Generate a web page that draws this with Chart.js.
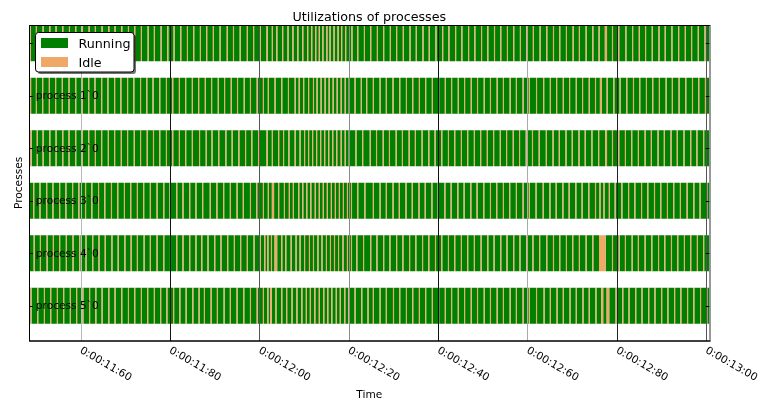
<!DOCTYPE html>
<html>
<head>
<meta charset="utf-8">
<script src="https://cdn.jsdelivr.net/npm/chart.js@4/dist/chart.umd.min.js"></script>
<style>
  html, body { margin: 0; padding: 0; background: #ffffff; }
  #wrap { width: 760px; height: 402px; }
</style>
</head>
<body>
<div id="wrap"><canvas id="chart" width="760" height="402"></canvas></div>
<script>
// Process rows, top to bottom
const processes = ['process 0`0', 'process 1`0', 'process 2`0', 'process 3`0', 'process 4`0', 'process 5`0'];

// Time window of the trace (ms) and the labelled ticks
const timeStart = 11484.3;
const timeEnd = 13005.8;
const tickValues = [11600, 11800, 12000, 12200, 12400, 12600, 12800, 13000];

// Start of every idle period (ms), one list per process
const p0Idle = [11485, 11499, 11514, 11529, 11543, 11558, 11573, 11587, 11602, 11617, 11631, 11646, 11661, 11675, 11690, 11705, 11719, 11734, 11749, 11763, 11778, 11793, 11807, 11822, 11837, 11851, 11866, 11880, 11895, 11910, 11926, 11940, 11955, 11971, 11985, 12000, 12015, 12027, 12037, 12050, 12062, 12073, 12084, 12095, 12106, 12115, 12124, 12132, 12140, 12149, 12156, 12165, 12174, 12182, 12191, 12205, 12218, 12233, 12247, 12262, 12276, 12291, 12305, 12320, 12335, 12349, 12364, 12378, 12393, 12408, 12422, 12437, 12451, 12466, 12480, 12495, 12509, 12524, 12538, 12553, 12567, 12582, 12596, 12611, 12626, 12641, 12656, 12670, 12685, 12700, 12714, 12729, 12744, 12758, 12772, 12788, 12802, 12818, 12833, 12848, 12862, 12877, 12892, 12906, 12921, 12936, 12951, 12965, 12980, 12995];
const p1Idle = [11486, 11499, 11513, 11528, 11542, 11557, 11572, 11587, 11602, 11616, 11630, 11645, 11659, 11674, 11688, 11703, 11717, 11732, 11746, 11760, 11775, 11790, 11804, 11819, 11833, 11848, 11862, 11877, 11891, 11906, 11920, 11935, 11949, 11964, 11978, 11993, 12007, 12018, 12033, 12048, 12063, 12078, 12087, 12097, 12108, 12119, 12127, 12136, 12145, 12154, 12163, 12172, 12181, 12190, 12199, 12212, 12226, 12238, 12253, 12268, 12282, 12297, 12312, 12327, 12341, 12356, 12370, 12385, 12399, 12414, 12428, 12443, 12457, 12472, 12486, 12501, 12515, 12530, 12544, 12559, 12573, 12588, 12602, 12618, 12634, 12649, 12663, 12678, 12692, 12707, 12721, 12736, 12750, 12761, 12776, 12791, 12805, 12820, 12835, 12849, 12864, 12878, 12893, 12908, 12922, 12937, 12952, 12967, 12981, 12996];
const p2Idle = [11487, 11501, 11514, 11529, 11543, 11558, 11572, 11587, 11602, 11616, 11631, 11645, 11660, 11674, 11689, 11703, 11718, 11732, 11747, 11761, 11775, 11790, 11804, 11819, 11833, 11848, 11864, 11879, 11892, 11907, 11923, 11937, 11952, 11967, 11981, 11996, 12015, 12027, 12041, 12052, 12064, 12078, 12089, 12099, 12108, 12117, 12126, 12135, 12144, 12153, 12162, 12171, 12181, 12190, 12199, 12214, 12229, 12246, 12260, 12275, 12289, 12304, 12318, 12333, 12347, 12362, 12377, 12391, 12406, 12421, 12435, 12450, 12464, 12479, 12493, 12508, 12522, 12537, 12551, 12566, 12580, 12595, 12609, 12624, 12640, 12655, 12669, 12684, 12698, 12713, 12727, 12742, 12757, 12773, 12788, 12802, 12817, 12831, 12846, 12861, 12875, 12890, 12904, 12919, 12933, 12948, 12963, 12977, 12992];
const p3Idle = [11493, 11507, 11522, 11536, 11551, 11565, 11580, 11594, 11609, 11623, 11638, 11652, 11667, 11681, 11696, 11710, 11725, 11739, 11754, 11769, 11784, 11798, 11813, 11827, 11842, 11856, 11871, 11888, 11903, 11918, 11933, 11948, 11962, 11978, 11992, 12007, 12018, 12027, 12041, 12054, 12065, 12074, 12086, 12095, 12104, 12113, 12123, 12132, 12141, 12150, 12159, 12168, 12177, 12186, 12195, 12204, 12218, 12234, 12253, 12268, 12282, 12297, 12311, 12326, 12340, 12355, 12369, 12384, 12398, 12413, 12427, 12442, 12456, 12471, 12485, 12500, 12515, 12529, 12544, 12558, 12573, 12588, 12602, 12617, 12633, 12648, 12662, 12677, 12691, 12706, 12720, 12735, 12750, 12760, 12769, 12781, 12794, 12809, 12824, 12838, 12853, 12867, 12882, 12896, 12911, 12925, 12940, 12955, 12970, 12984, 12999];
const p4Idle = [11494, 11508, 11523, 11537, 11551, 11566, 11581, 11596, 11610, 11625, 11639, 11653, 11668, 11682, 11697, 11711, 11725, 11740, 11754, 11769, 11784, 11799, 11813, 11827, 11842, 11856, 11869, 11883, 11898, 11912, 11927, 11942, 11956, 11971, 11986, 12000, 12010, 12017, 12025, 12033, 12048, 12057, 12069, 12080, 12089, 12099, 12110, 12119, 12129, 12138, 12148, 12157, 12166, 12175, 12185, 12195, 12204, 12216, 12231, 12247, 12261, 12276, 12290, 12305, 12319, 12334, 12348, 12363, 12377, 12392, 12406, 12421, 12435, 12450, 12464, 12479, 12494, 12509, 12523, 12538, 12552, 12567, 12581, 12596, 12610, 12625, 12641, 12656, 12670, 12685, 12699, 12714, 12729, 12744, 12759, 12788, 12803, 12817, 12832, 12846, 12861, 12876, 12891, 12905, 12920, 12934, 12949, 12963, 12978, 12992];
const p5Idle = [11487, 11502, 11517, 11531, 11546, 11560, 11575, 11589, 11603, 11618, 11632, 11646, 11661, 11675, 11690, 11705, 11719, 11734, 11748, 11763, 11777, 11791, 11806, 11820, 11834, 11849, 11863, 11875, 11890, 11904, 11919, 11933, 11948, 11963, 11978, 11993, 12007, 12017, 12023, 12035, 12048, 12059, 12071, 12082, 12093, 12103, 12112, 12122, 12132, 12142, 12151, 12160, 12170, 12179, 12189, 12198, 12212, 12227, 12241, 12253, 12268, 12282, 12298, 12312, 12327, 12341, 12356, 12370, 12385, 12399, 12414, 12428, 12443, 12457, 12472, 12486, 12501, 12515, 12530, 12544, 12559, 12573, 12588, 12602, 12618, 12635, 12649, 12664, 12678, 12693, 12707, 12722, 12736, 12751, 12764, 12776, 12796, 12811, 12825, 12840, 12854, 12869, 12883, 12898, 12912, 12927, 12941, 12956, 12970, 12985, 12999];

// Usual length of an idle period (ms) and the longer ones: [process, start, length]
const idleMs = 2.4;
const longIdle = [
  [0, 12015, 3], [0, 12772, 5],
  [1, 12761, 4],
  [2, 11487, 3], [2, 12015, 3], [2, 12773, 4],
  [3, 12027, 5],
  [4, 12033, 6], [4, 12759, 15],
  [5, 12023, 4], [5, 12764, 4.5], [5, 12776, 6]
];

const idleRows = [p0Idle, p1Idle, p2Idle, p3Idle, p4Idle, p5Idle];

// Running periods are the stretches between idle periods
const runData = [];
const idleData = [];
idleRows.forEach((starts, row) => {
  let cursor = timeStart;
  starts.forEach(s => {
    const hit = longIdle.find(d => d[0] === row && d[1] === s);
    const e = s + (hit ? hit[2] : idleMs);
    if (s > cursor) runData.push({ x: [cursor, s], y: row });
    idleData.push({ x: [s, e], y: row });
    cursor = e;
  });
  if (cursor < timeEnd) runData.push({ x: [cursor, timeEnd], y: row });
});

const GREEN = '#008000';
const TAN = '#F0A868';
const gridColors = ['#b8b8b8', '#111111', '#555555', '#8c8c8c', '#111111', '#aaaaaa', '#222222', '#555555'];
const FONT = '"DejaVu Sans", "Liberation Sans", sans-serif';

function timeLabel(v) {
  const s = Math.floor(v / 1000);
  const cs = Math.round((v - s * 1000) / 10);
  return '0:00:' + s + ':' + String(cs).padStart(2, '0');
}

function roundRect(ctx, x, y, w, h, r) {
  ctx.beginPath();
  ctx.moveTo(x + r, y);
  ctx.lineTo(x + w - r, y);
  ctx.arcTo(x + w, y, x + w, y + r, r);
  ctx.lineTo(x + w, y + h - r);
  ctx.arcTo(x + w, y + h, x + w - r, y + h, r);
  ctx.lineTo(x + r, y + h);
  ctx.arcTo(x, y + h, x, y + h - r, r);
  ctx.lineTo(x, y + r);
  ctx.arcTo(x, y, x + r, y, r);
  ctx.closePath();
}

// Frame, tick marks, labels, title and legend
const decor = {
  id: 'decor',
  afterDraw(chart) {
    const { ctx, chartArea: a, scales } = chart;
    const xs = scales.x, ys = scales.y;
    ctx.save();

    // frame
    ctx.strokeStyle = '#000';
    ctx.lineWidth = 1;
    ctx.beginPath();
    ctx.moveTo(29.5, a.top); ctx.lineTo(29.5, a.bottom + 1);
    ctx.moveTo(a.left, 25.5); ctx.lineTo(a.right + 1, 25.5);
    ctx.stroke();
    ctx.lineWidth = 1.4;
    ctx.beginPath();
    ctx.moveTo(a.left, 341); ctx.lineTo(a.right + 1, 341);
    ctx.stroke();
    ctx.lineWidth = 1;
    ctx.strokeStyle = '#333';
    ctx.beginPath();
    ctx.moveTo(710, a.top); ctx.lineTo(710, a.bottom + 1);
    ctx.stroke();

    // inward tick marks on both sides of each row
    ctx.strokeStyle = '#000';
    ctx.lineWidth = 1;
    ctx.beginPath();
    processes.forEach((_, i) => {
      const py = Math.round(ys.getPixelForValue(i)) + 0.5;
      ctx.moveTo(a.left, py); ctx.lineTo(a.left + 3.5, py);
      ctx.moveTo(a.right - 3.5, py); ctx.lineTo(a.right, py);
    });
    ctx.stroke();

    // row labels inside the plot
    ctx.fillStyle = '#000';
    ctx.font = '10.6px ' + FONT;
    ctx.textAlign = 'left';
    ctx.textBaseline = 'alphabetic';
    processes.forEach((name, i) => {
      ctx.fillText(name, a.left + 6.5, ys.getPixelForValue(i) + 3.6);
    });

    // rotated time labels
    tickValues.forEach(v => {
      const px = xs.getPixelForValue(v);
      ctx.save();
      ctx.translate(px + 2, 345.5);
      ctx.rotate(Math.PI / 6);
      ctx.fillText(timeLabel(v), 0, 7.7);
      ctx.restore();
    });

    // axis titles
    ctx.textAlign = 'center';
    ctx.fillText('Time', (a.left + a.right) / 2, 398);
    ctx.save();
    ctx.translate(22, (a.top + a.bottom) / 2);
    ctx.rotate(-Math.PI / 2);
    ctx.fillText('Processes', 0, 0);
    ctx.restore();

    // title
    ctx.font = '12.7px ' + FONT;
    ctx.fillText('Utilizations of processes', (a.left + a.right) / 2, 21);

    // legend with drop shadow
    const lx = 35.5, ly = 32.5, lw = 98.5, lh = 39.5;
    ctx.fillStyle = 'rgba(0,0,0,0.55)';
    roundRect(ctx, lx + 2, ly + 2, lw, lh, 3);
    ctx.fill();
    ctx.fillStyle = '#fff';
    ctx.strokeStyle = '#000';
    ctx.lineWidth = 1;
    roundRect(ctx, lx, ly, lw, lh, 3);
    ctx.fill();
    ctx.stroke();
    ctx.textAlign = 'left';
    chart.data.datasets.forEach((ds, i) => {
      const top = 38 + i * 19;
      ctx.fillStyle = ds.backgroundColor;
      ctx.fillRect(41, top, 27, 10);
      ctx.fillStyle = '#000';
      ctx.fillText(ds.label, 78.5, top + 10.2);
    });

    ctx.restore();
  }
};

Chart.defaults.font.family = FONT;

new Chart(document.getElementById('chart'), {
  type: 'bar',
  data: {
    datasets: [
      { label: 'Running', data: runData, backgroundColor: GREEN, order: 1 },
      { label: 'Idle', data: idleData, backgroundColor: TAN, order: 0 }
    ]
  },
  options: {
    indexAxis: 'y',
    responsive: false,
    animation: false,
    events: [],
    layout: { padding: { left: 29.3, top: 25.3, right: 50.7, bottom: 61.5 } },
    datasets: {
      bar: {
        grouped: false,
        categoryPercentage: 0.686,
        barPercentage: 1,
        borderWidth: 0,
        inflateAmount: 0
      }
    },
    scales: {
      x: {
        type: 'linear',
        min: timeStart,
        max: timeEnd,
        offset: false,
        afterBuildTicks: s => { s.ticks = tickValues.map(v => ({ value: v })); },
        ticks: { display: false },
        grid: { color: c => gridColors[c.index] || '#000', lineWidth: 1, drawTicks: false, offset: false, z: 1 },
        border: { display: false }
      },
      y: {
        type: 'linear',
        reverse: true,
        offset: false,
        min: -0.341,
        max: 5.663,
        afterBuildTicks: s => { s.ticks = processes.map((_, i) => ({ value: i })); },
        ticks: { display: false },
        grid: { display: false, drawTicks: false, offset: false },
        border: { display: false }
      }
    },
    plugins: {
      legend: { display: false },
      tooltip: { enabled: false },
      title: { display: false }
    }
  },
  plugins: [decor]
});
</script>
</body>
</html>
